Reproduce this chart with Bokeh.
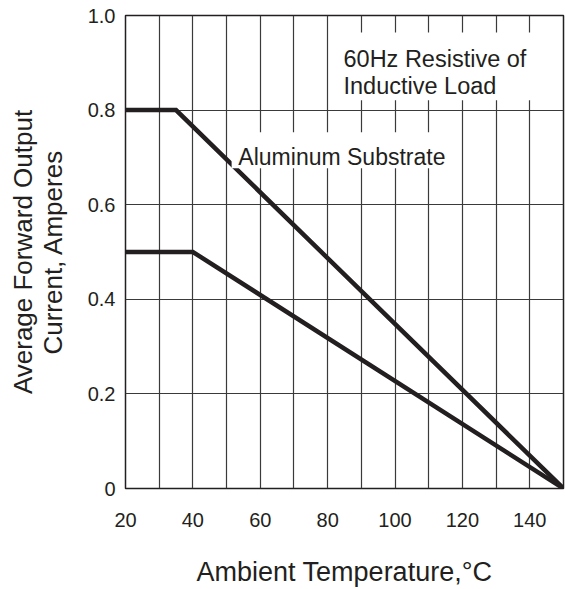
import math
from bokeh.plotting import figure
from bokeh.models import FixedTicker, Label, BoxAnnotation
from bokeh.embed import file_html
from bokeh.resources import INLINE

# ---- data ----
upper_x = [20, 35, 150]          # Aluminum substrate curve
upper_y = [0.8, 0.8, 0.0]
lower_x = [20, 40, 150]
lower_y = [0.5, 0.5, 0.0]

x_ticks = [20, 40, 60, 80, 100, 120, 140]
x_tick_labels = ["20", "40", "60", "80", "100", "120", "140"]
y_ticks = [0, 0.2, 0.4, 0.6, 0.8, 1.0]
y_tick_labels = ["0", "0.2", "0.4", "0.6", "0.8", "1.0"]
x_grid = [20, 30, 40, 50, 60, 70, 80, 90, 100, 110, 120, 130, 140, 150]
y_grid = [0.2, 0.4, 0.6, 0.8]

FONT = "Liberation Sans"
INK = "#231f20"

p = figure(width=565, height=589, x_range=(20, 150), y_range=(0, 1.0),
           output_backend="svg", toolbar_location=None,
           min_border_left=125, min_border_right=2, min_border_top=15,
           min_border_bottom=100)
p.background_fill_color = "white"
p.border_fill_color = "white"
p.outline_line_color = INK
p.outline_line_width = 1.5

p.xaxis.ticker = FixedTicker(ticks=x_ticks)
p.yaxis.ticker = FixedTicker(ticks=y_ticks)
p.xaxis.major_label_overrides = dict(zip(x_ticks, x_tick_labels))
p.yaxis.major_label_overrides = dict(zip(y_ticks, y_tick_labels))
for ax in (p.xaxis[0], p.yaxis[0]):
    ax.axis_line_color = None
    ax.major_tick_line_color = None
    ax.minor_tick_line_color = None
    ax.major_tick_out = 0
    ax.major_tick_in = 0
    ax.minor_tick_out = 0
    ax.minor_tick_in = 0
    ax.major_label_text_font = FONT
    ax.major_label_text_font_size = "20px"
    ax.major_label_text_color = INK
    ax.axis_label_text_font = FONT
    ax.axis_label_text_font_style = "normal"
    ax.axis_label_text_color = INK
p.xaxis.major_label_standoff = 24
p.yaxis.major_label_standoff = 10

p.xaxis.axis_label = "Ambient Temperature,°C"
p.xaxis.axis_label_text_font_size = "27px"
p.xaxis.axis_label_standoff = 27
p.yaxis.axis_label = "Average Forward Output\nCurrent, Amperes"
p.yaxis.axis_label_text_font_size = "26px"
p.yaxis.axis_label_standoff = 17
p.yaxis.axis_label_text_line_height = 1.0

p.xgrid.ticker = FixedTicker(ticks=x_grid)
p.ygrid.ticker = FixedTicker(ticks=y_grid)
for g in (p.xgrid[0], p.ygrid[0]):
    g.grid_line_color = "#3a3a3a"
    g.grid_line_width = 1.2
    g.grid_line_alpha = 1.0

p.line(upper_x, upper_y, line_width=4.5, line_color=INK, line_join="miter")
p.line(lower_x, lower_y, line_width=4.5, line_color=INK, line_join="miter")

# white boxes behind the annotations
p.add_layout(BoxAnnotation(left=82.9, right=143.2, top=0.964, bottom=0.821,
                           fill_color="white", fill_alpha=1.0,
                           line_color=None, line_alpha=0))
p.add_layout(BoxAnnotation(left=51.5, right=117.1, top=0.753, bottom=0.677,
                           fill_color="white", fill_alpha=1.0,
                           line_color=None, line_alpha=0))

def lab(x, y, text, size, **kw):
    p.add_layout(Label(x=x, y=y, text=text, text_font=FONT,
                       text_font_size=size, text_color=INK, **kw))

lab(84.7, 0.907, "60Hz Resistive of", "23.5px", text_align="left", text_baseline="alphabetic")
lab(84.7, 0.852, "Inductive Load", "23.5px", text_align="left", text_baseline="alphabetic")
lab(53.5, 0.700, "Aluminum Substrate", "23px", text_align="left", text_baseline="alphabetic")

open("out.html", "w").write(file_html(p, INLINE))
